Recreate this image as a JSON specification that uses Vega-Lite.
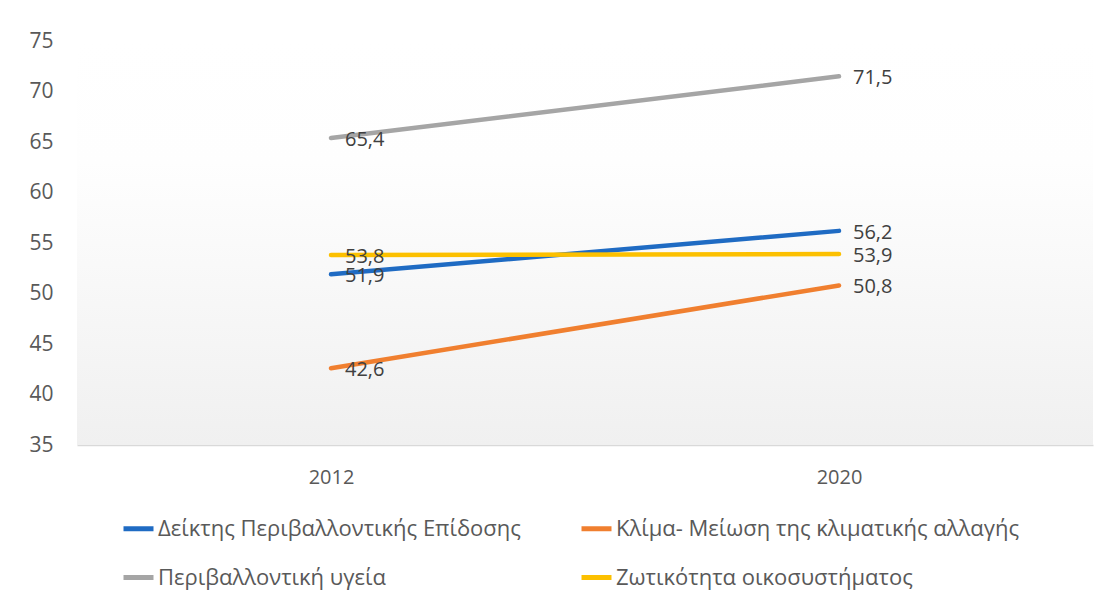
{
  "$schema": "https://vega.github.io/schema/vega-lite/v6.json",
  "autosize": "none",
  "width": 1016,
  "height": 404,
  "padding": {"left": 77, "top": 41, "right": 17, "bottom": 159},
  "background": "#ffffff",
  "config": {
    "view": {"stroke": null},
    "font": "Open Sans",
    "locale": {"number": {"decimal": ",", "thousands": ".", "grouping": [3], "currency": ["", " €"]}}
  },
  "datasets": {
    "scores": [
      {"year": "2012", "series": "Δείκτης Περιβαλλοντικής Επίδοσης", "value": 51.9},
      {"year": "2020", "series": "Δείκτης Περιβαλλοντικής Επίδοσης", "value": 56.2},
      {"year": "2012", "series": "Κλίμα- Μείωση της κλιματικής αλλαγής", "value": 42.6},
      {"year": "2020", "series": "Κλίμα- Μείωση της κλιματικής αλλαγής", "value": 50.8},
      {"year": "2012", "series": "Περιβαλλοντική υγεία", "value": 65.4},
      {"year": "2020", "series": "Περιβαλλοντική υγεία", "value": 71.5},
      {"year": "2012", "series": "Ζωτικότητα οικοσυστήματος", "value": 53.8},
      {"year": "2020", "series": "Ζωτικότητα οικοσυστήματος", "value": 53.9}
    ]
  },
  "layer": [
    {
      "data": {"values": [{}]},
      "mark": {
        "type": "rect",
        "color": {
          "gradient": "linear", "x1": 0, "y1": 0, "x2": 0, "y2": 1,
          "stops": [
            {"offset": 0, "color": "#ffffff"},
            {"offset": 0.3, "color": "#fefefe"},
            {"offset": 1, "color": "#f0f0f0"}
          ]
        }
      },
      "encoding": {}
    },
    {
      "data": {"name": "scores"},
      "mark": {"type": "line", "strokeWidth": 4.5, "strokeCap": "round"},
      "encoding": {
        "x": {
          "field": "year", "type": "ordinal",
          "scale": {"type": "point", "padding": 0.5},
          "axis": {
            "title": null, "ticks": false, "labelAngle": 0,
            "domainColor": "#d9d9d9", "domainWidth": 1.5,
            "labelFontSize": 20, "labelColor": "#595959", "labelPadding": 22, "grid": false
          }
        },
        "y": {
          "field": "value", "type": "quantitative",
          "scale": {"domain": [35, 75], "nice": false, "zero": false},
          "axis": {
            "title": null, "values": [35, 40, 45, 50, 55, 60, 65, 70, 75],
            "domain": false, "ticks": false, "grid": false,
            "labelFontSize": 21, "labelColor": "#595959", "labelPadding": 24
          }
        },
        "color": {
          "field": "series", "type": "nominal",
          "scale": {
            "domain": ["Δείκτης Περιβαλλοντικής Επίδοσης", "Κλίμα- Μείωση της κλιματικής αλλαγής", "Περιβαλλοντική υγεία", "Ζωτικότητα οικοσυστήματος"],
            "range": ["#1f6bc3", "#f07f2f", "#a5a5a5", "#fcc000"]
          },
          "legend": {
            "title": null, "orient": "none", "legendX": 44, "legendY": 470,
            "direction": "horizontal", "columns": 2,
            "symbolType": "stroke", "symbolSize": 900, "symbolStrokeWidth": 5,
            "labelFontSize": 22, "labelColor": "#595959", "labelLimit": 600, "labelOffset": 2,
            "columnPadding": 50, "rowPadding": 20
          }
        }
      }
    },
    {
      "data": {"name": "scores"},
      "mark": {"type": "text", "align": "left", "baseline": "middle", "dx": 14, "dy": 2, "fontSize": 20, "color": "#404040"},
      "encoding": {
        "x": {"field": "year", "type": "ordinal"},
        "y": {"field": "value", "type": "quantitative"},
        "text": {"field": "value", "type": "quantitative", "format": ".1f"}
      }
    }
  ]
}
